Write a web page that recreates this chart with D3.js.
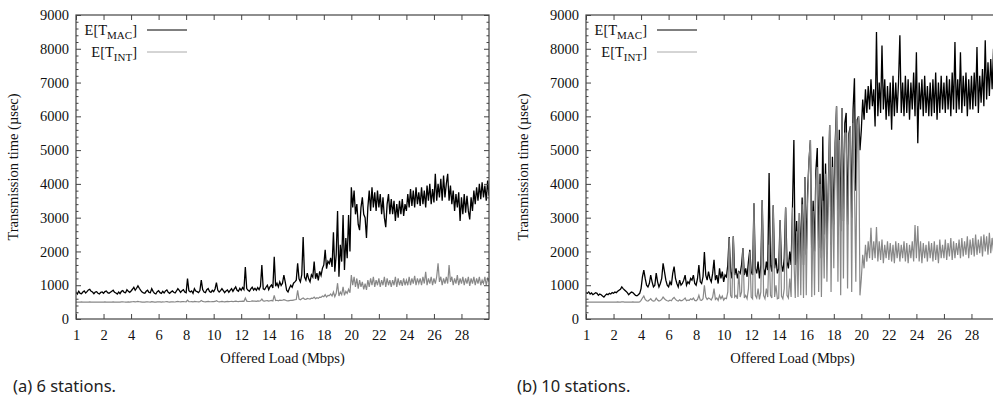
<!DOCTYPE html>
<html>
<head>
<meta charset="utf-8">
<script src="https://cdn.jsdelivr.net/npm/d3@7/dist/d3.min.js"></script>
<style>
  html, body { margin: 0; padding: 0; background: #fff; }
  svg { display: block; }
</style>
</head>
<body>
<svg id="chart" width="993" height="399"></svg>
<script>
// ---------- DATA ----------
// x positions along the axis (0.1 Mbps step); axis position 0 is labelled "1"
const load = d3.range(0, 301).map(i => i / 10);

const xTickValues = [0, 2, 4, 6, 8, 10, 12, 14, 16, 18, 20, 22, 24, 26, 28];
const xTickLabels = ["1", "2", "4", "6", "8", "10", "12", "14", "16", "18", "20", "22", "24", "26", "28"];
const yTickValues = [0, 1000, 2000, 3000, 4000, 5000, 6000, 7000, 8000, 9000];

const captions = ["(a) 6 stations.", "(b) 10 stations."];
const xTitle = "Offered Load (Mbps)";
const yTitle = "Transmission time (\u00b5sec)";

// (a) 6 stations, E[T_MAC]
const macA = [
  800,740,820,760,750,800,830,770,810,860,
  880,820,800,750,800,810,760,740,790,800,
  760,810,830,780,760,790,820,850,790,770,
  740,800,750,820,840,790,780,870,820,790,
  830,880,940,850,910,980,910,850,800,770,
  760,820,850,790,780,900,820,760,740,810,
  840,780,760,820,770,830,860,790,760,800,
  830,790,770,830,900,850,790,840,870,800,
  780,1200,840,800,830,760,900,830,810,780,
  840,1150,870,800,780,870,900,810,790,850,
  810,890,1080,850,800,840,900,840,780,830,
  860,790,850,900,820,890,950,850,820,910,
  850,930,870,1540,900,850,820,890,940,860,
  910,850,930,870,970,1600,890,870,940,1000,
  870,960,1010,920,1840,970,1060,950,1100,990,
  1060,1300,1090,850,800,910,1000,940,1060,1100,
  1150,1650,1190,1100,1310,2430,1240,1150,1360,1190,
  1100,1310,1240,1700,1190,1360,1140,1410,1290,1500,
  1600,2050,1490,1710,1640,1810,1540,2570,1400,1900,
  3200,1250,2200,1700,3080,1450,2400,1800,3080,2000,
  3900,3300,3800,3100,3400,2800,2630,3300,3600,3100,
  3000,2400,3300,3800,3200,3900,3300,3750,3200,3800,
  3300,3700,3100,3600,3000,2720,3400,3700,3100,3550,
  3100,3500,2900,3400,3000,3500,3100,3550,3050,3400,
  3200,3700,3300,3850,3350,3800,3300,3900,3400,3750,
  3350,3900,3400,3800,3300,3950,3500,4000,3400,3850,
  3450,4300,3500,4000,3600,4150,3500,4250,3600,4000,
  4300,3500,3950,3400,3800,3200,3700,3300,3750,2900,
  3600,3100,3700,3150,3650,3200,2950,3600,3200,3800,
  3400,3900,3500,4000,3550,4050,3600,3950,3500,4100,
  3650
];

// (a) 6 stations, E[T_INT]
const intA = [
  500,498,502,500,505,500,497,503,500,500,
  505,500,498,502,500,503,499,501,500,502,
  500,505,502,498,500,503,500,506,501,499,
  502,500,498,505,510,503,500,498,504,500,
  505,510,515,508,512,520,510,505,500,502,
  500,505,510,503,500,515,508,500,498,505,
  510,505,500,508,503,510,515,505,500,506,
  510,505,503,512,520,510,505,512,518,510,
  505,560,515,510,512,505,520,515,510,508,
  512,550,520,510,508,515,520,512,510,515,
  512,520,540,518,510,515,522,515,510,516,
  520,512,518,525,515,522,530,520,515,525,
  520,530,525,620,530,522,518,525,535,528,
  530,522,535,528,540,590,535,528,540,545,
  530,540,550,535,700,545,555,540,560,550,
  555,570,560,540,535,545,555,550,560,570,
  575,850,590,570,600,620,590,580,610,600,
  590,620,610,650,600,630,610,650,640,680,
  660,720,650,700,690,740,680,800,660,760,
  1060,680,800,720,950,700,820,760,880,780,
  1300,1000,1250,950,1200,900,1150,950,1100,880,
  1050,860,1150,950,1200,1000,1250,950,1150,1000,
  1200,950,1150,1000,1250,950,1200,1000,1150,950,
  1150,1000,1250,950,1200,1000,1150,980,1200,1000,
  1150,1000,1250,1000,1200,1050,1280,1000,1200,1050,
  1200,1000,1250,1050,1400,1000,1200,1050,1250,1000,
  1200,1050,1250,1650,1100,1250,1000,1200,1050,1250,
  1050,1600,1100,1250,1000,1200,1050,1300,1000,1200,
  1050,1250,1000,1200,1050,1250,980,1200,1050,1250,
  1000,1200,1050,1250,1000,1150,1050,1250,1000,1200,
  1100
];

// (b) 10 stations, E[T_MAC]
const macB = [
  780,760,800,740,770,720,750,780,760,700,
  740,720,680,650,700,740,720,760,740,780,
  760,800,780,820,850,880,950,900,860,820,
  780,720,760,800,780,740,700,690,720,760,
  900,1250,1450,1200,1000,950,1050,1300,1100,950,
  1000,1360,1100,950,1050,1200,1650,1400,1150,1000,
  950,1100,1000,1350,1550,1200,1050,950,1150,1000,
  1050,1150,1300,1000,1100,1050,1200,1150,1300,1050,
  1000,1200,1600,1100,1050,1250,1980,1300,1150,1400,
  1200,1100,1350,1750,1150,1300,1050,1500,1200,1400,
  1100,1300,1250,1600,2430,1400,1200,2450,1300,1500,
  1200,1400,1350,1600,2100,1300,1500,1250,1700,2050,
  1400,1300,3430,1500,1350,1700,1200,1600,3520,1500,
  1300,1700,1450,4320,1600,1400,3370,1500,1800,1350,
  1500,2930,1600,1400,1800,3300,1700,1500,2000,1600,
  3300,5300,1600,2900,1500,3140,1800,3600,1600,4200,
  1900,3800,4700,5300,1800,3500,2000,4400,5060,2100,
  4300,1800,5400,2500,4600,2300,3900,5740,2200,4800,
  2800,5200,6300,2700,5600,2600,6250,2900,5800,6100,
  2800,5500,5700,3000,6200,7130,3800,5900,6000,5000,
  5600,6500,5900,6800,6100,6900,6200,7100,6300,6800,
  5700,8500,6000,7000,6100,8100,6200,7100,5900,6900,
  6000,7000,5600,7200,6000,7000,6100,7000,8400,6100,
  7000,6000,7200,6100,7100,5900,7000,6200,7300,6000,
  7900,5200,7000,6200,7100,6000,7200,6100,6900,6000,
  7000,6000,7100,6100,7300,5900,7000,6100,7200,6200,
  7000,6100,7200,6200,7100,6000,7300,6200,8200,6100,
  7100,6200,7900,6100,7200,6300,7300,6000,7100,6200,
  7200,6200,7300,6300,8050,6100,7200,6400,7400,6300,
  8250,6500,7600,6600,7700,6800,8000,6600,7800,6900,
  7400
];

// (b) 10 stations, E[T_INT]
const intB = [
  500,500,498,502,500,497,503,500,500,502,
  500,498,502,500,503,500,497,500,502,500,
  500,503,500,505,502,500,508,505,500,502,
  500,498,502,500,505,500,498,502,500,505,
  550,620,680,580,540,530,560,600,550,530,
  540,620,560,530,550,580,650,600,560,540,
  530,560,540,600,640,580,550,530,570,540,
  550,580,620,540,560,550,600,570,620,550,
  540,580,700,560,550,600,1000,650,580,620,
  600,560,650,900,580,620,550,700,600,680,
  560,620,600,800,2400,700,620,2450,650,700,
  600,1400,650,800,2100,620,700,600,900,2000,
  650,600,3430,700,620,900,580,800,3520,700,
  600,900,650,2200,700,620,3370,650,1000,600,
  620,2930,680,600,900,3300,700,620,1200,650,
  3300,1800,620,2600,650,3140,700,3400,620,4200,
  700,3500,4700,5300,650,3200,700,4100,4500,800,
  4000,650,3500,1200,4300,1100,3600,5740,800,4500,
  1500,4900,6300,1100,5300,700,6250,1200,5500,5500,
  900,5200,5700,800,5800,4000,1100,5600,6000,700,
  1200,1900,1500,2200,1700,2300,1800,2700,1750,2300,
  1800,2720,1700,2300,1750,2350,1650,2200,1800,2300,
  1750,2250,1700,2200,1650,2300,1800,2250,1700,2200,
  1800,2300,1700,2250,1650,2200,1800,2300,1700,2780,
  1800,2750,1700,2300,1650,2250,1800,2200,1700,2300,
  1800,2250,1700,2300,1750,2200,1650,2350,1800,2200,
  1800,2350,1750,2250,1850,2400,1750,2300,1800,2250,
  1900,2350,1800,2400,1850,2300,1900,2450,1800,2350,
  1900,2400,1850,2500,1900,2350,1950,2450,1850,2500,
  2000,2450,1900,2550,1950,2400,2000,2500,1900,2450,
  2200
];

const panels = [
  { x0: 76,  mac: macA, int: intA, caption: captions[0], capX: 13 },
  { x0: 586, mac: macB, int: intB, caption: captions[1], capX: 517 }
];

// ---------- DRAW ----------
const svg = d3.select("#chart");
svg.append("rect").attr("width", 993).attr("height", 399).attr("fill", "#fff");

const W = 413, Y0 = 15, Y1 = 319;
const serif = "Liberation Serif, Times New Roman, Times, serif";
const sans = "Noto Sans, Open Sans, sans-serif";
const frameColor = "#444";
const fs = 14.5;

panels.forEach((p, pi) => {
  const x = d3.scaleLinear().domain([0, 30]).range([p.x0, p.x0 + W]);
  const y = d3.scaleLinear().domain([0, 9000]).range([Y1, Y0]);
  const g = svg.append("g");

  const clipId = "clip" + pi;
  svg.append("clipPath").attr("id", clipId)
    .append("rect").attr("x", p.x0).attr("y", Y0).attr("width", W).attr("height", Y1 - Y0);

  const line = d3.line().x((d, i) => x(load[i])).y(d => y(d));

  const lines = g.append("g").attr("clip-path", `url(#${clipId})`);
  lines.append("path").datum(p.mac).attr("d", line)
    .attr("fill", "none").attr("stroke", "#000").attr("stroke-width", 1.3);
  lines.append("path").datum(p.int).attr("d", line)
    .attr("fill", "none").attr("stroke", "#888").attr("stroke-width", 1.2);

  const minorY = d3.range(0, 9001, 200).filter(v => v % 1000 !== 0);

  function styleAxis(sel) {
    sel.attr("font-family", serif).attr("font-size", fs);
    sel.select(".domain").remove();
    sel.selectAll(".tick line").attr("stroke", frameColor);
    sel.selectAll(".tick text").attr("fill", "#111");
  }

  g.append("g").attr("transform", `translate(0,${Y1})`)
    .call(d3.axisBottom(x).tickValues(xTickValues).tickFormat((d, i) => xTickLabels[i])
      .tickSizeInner(-5).tickSizeOuter(0).tickPadding(11))
    .call(styleAxis);
  g.append("g").attr("transform", `translate(0,${Y0})`)
    .call(d3.axisTop(x).tickValues(xTickValues).tickFormat("").tickSizeInner(-5).tickSizeOuter(0))
    .call(styleAxis);
  g.append("g").attr("transform", `translate(${p.x0},0)`)
    .call(d3.axisLeft(y).tickValues(yTickValues).tickFormat(d3.format("d"))
      .tickSizeInner(-5).tickSizeOuter(0).tickPadding(7))
    .call(styleAxis);
  g.append("g").attr("transform", `translate(${p.x0},0)`)
    .call(d3.axisLeft(y).tickValues(minorY).tickFormat("").tickSizeInner(-2.5).tickSizeOuter(0))
    .call(styleAxis);
  g.append("g").attr("transform", `translate(${p.x0 + W},0)`)
    .call(d3.axisRight(y).tickValues(yTickValues).tickFormat("").tickSizeInner(-5).tickSizeOuter(0))
    .call(styleAxis);
  g.append("g").attr("transform", `translate(${p.x0 + W},0)`)
    .call(d3.axisRight(y).tickValues(minorY).tickFormat("").tickSizeInner(-2.5).tickSizeOuter(0))
    .call(styleAxis);

  g.append("rect").attr("x", p.x0).attr("y", Y0).attr("width", W).attr("height", Y1 - Y0)
    .attr("fill", "none").attr("stroke", frameColor).attr("stroke-width", 1.2);

  g.append("text").attr("x", (p.x0 + p.x0 + W) / 2).attr("y", 363)
    .attr("text-anchor", "middle").attr("font-family", serif).attr("font-size", fs)
    .attr("fill", "#111").text(xTitle);
  g.append("text")
    .attr("transform", `translate(${p.x0 - 58},${(Y0 + Y1) / 2}) rotate(-90)`)
    .attr("text-anchor", "middle").attr("font-family", serif).attr("font-size", fs)
    .attr("fill", "#111").text(yTitle);

  const legend = [
    { main: "E[T", sub: "MAC", color: "#000", y: 30 },
    { main: "E[T", sub: "INT", color: "#aaa", y: 52 }
  ];
  legend.forEach(L => {
    const t = g.append("text").attr("x", p.x0 + 61).attr("y", L.y + 4.5)
      .attr("text-anchor", "end").attr("font-family", serif).attr("font-size", fs).attr("fill", "#111");
    t.append("tspan").text(L.main);
    t.append("tspan").attr("dy", 4).attr("font-size", 11).text(L.sub);
    t.append("tspan").attr("dy", -4).text("]");
    g.append("line").attr("x1", p.x0 + 71).attr("x2", p.x0 + 111)
      .attr("y1", L.y).attr("y2", L.y).attr("stroke", L.color).attr("stroke-width", 1);
  });

  svg.append("text").attr("x", p.capX).attr("y", 392)
    .attr("font-family", sans).attr("font-size", 16.5)
    .attr("fill", "#222").text(p.caption);
});
</script>
</body>
</html>
